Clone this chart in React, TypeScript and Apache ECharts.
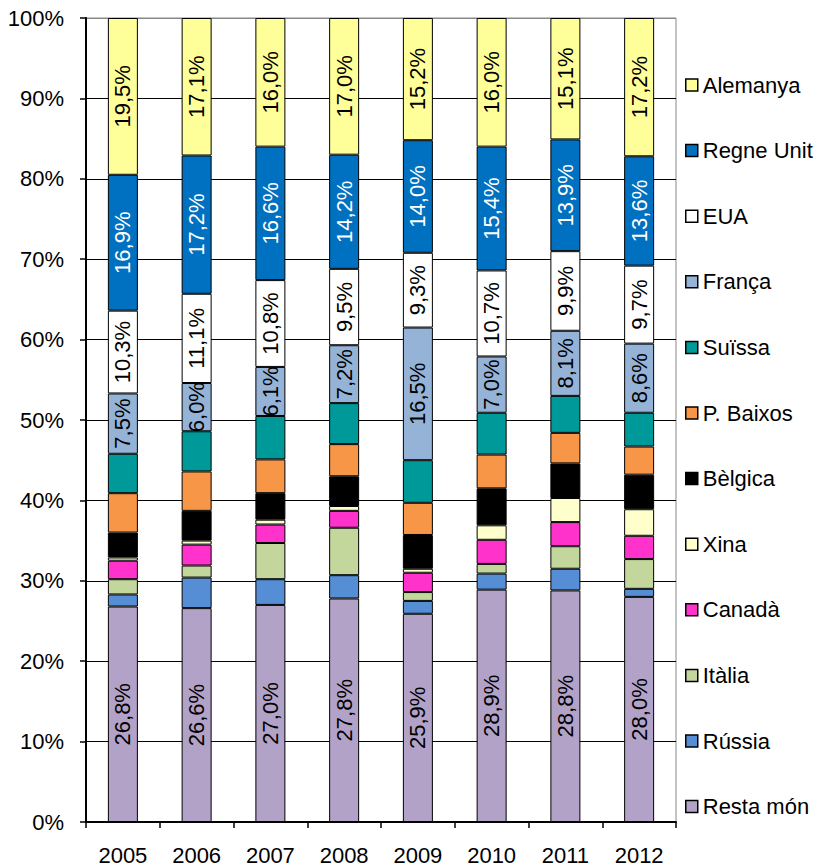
import React, { useEffect, useRef } from "react";
import * as echarts from "echarts";

const years = ["2005", "2006", "2007", "2008", "2009", "2010", "2011", "2012"];
const yTickLabels = [0, 10, 20, 30, 40, 50, 60, 70, 80, 90, 100];

const restaMon = [26.8, 26.6, 27.0, 27.8, 25.9, 28.9, 28.8, 28.0];
const russia = [1.5, 3.8, 3.2, 2.9, 1.6, 2.0, 2.7, 1.0];
const italia = [1.9, 1.5, 4.5, 5.9, 1.1, 1.2, 2.8, 3.7];
const canada = [2.3, 2.6, 2.3, 2.1, 2.4, 3.0, 3.0, 2.9];
const xina = [0.4, 0.5, 0.6, 0.6, 0.5, 1.8, 3.0, 3.3];
const belgica = [3.1, 3.7, 3.3, 3.7, 4.2, 4.6, 4.3, 4.3];
const pBaixos = [4.9, 4.9, 4.2, 4.0, 4.0, 4.2, 3.8, 3.5];
const suissa = [4.9, 5.0, 5.4, 5.1, 5.3, 5.2, 4.6, 4.2];
const franca = [7.5, 6.0, 6.1, 7.2, 16.5, 7.0, 8.1, 8.6];
const eua = [10.3, 11.1, 10.8, 9.5, 9.3, 10.7, 9.9, 9.7];
const regneUnit = [16.9, 17.2, 16.6, 14.2, 14.0, 15.4, 13.9, 13.6];
const alemanya = [19.5, 17.1, 16.0, 17.0, 15.2, 16.0, 15.1, 17.2];

const seriesDefs = [
  { name: "Resta món", data: restaMon, color: "#B3A2C7", label: true, labelColor: "#000" },
  { name: "Rússia", data: russia, color: "#558ED5", label: false, labelColor: "#000" },
  { name: "Itàlia", data: italia, color: "#C3D69B", label: false, labelColor: "#000" },
  { name: "Canadà", data: canada, color: "#FF33CC", label: false, labelColor: "#000" },
  { name: "Xina", data: xina, color: "#FFFFCC", label: false, labelColor: "#000" },
  { name: "Bèlgica", data: belgica, color: "#000000", label: false, labelColor: "#000" },
  { name: "P. Baixos", data: pBaixos, color: "#F79646", label: false, labelColor: "#000" },
  { name: "Suïssa", data: suissa, color: "#009999", label: false, labelColor: "#000" },
  { name: "França", data: franca, color: "#95B3D7", label: true, labelColor: "#000" },
  { name: "EUA", data: eua, color: "#FFFFFF", label: true, labelColor: "#000" },
  { name: "Regne Unit", data: regneUnit, color: "#0070C0", label: true, labelColor: "#FFFFFF" },
  { name: "Alemanya", data: alemanya, color: "#FFFF99", label: true, labelColor: "#000" },
];

const FONT = "'Liberation Sans', Arial, sans-serif";
const FS = 22;

export default function App() {
  const ref = useRef<HTMLDivElement>(null);

  useEffect(() => {
    if (!ref.current) return;
    const chart = echarts.init(ref.current, undefined, { renderer: "svg" });
    const splitColors = yTickLabels.map((v) => (v === 100 ? "#888888" : "#000000"));
    chart.setOption({
      animation: false,
      backgroundColor: "#ffffff",
      textStyle: { fontFamily: FONT },
      grid: {
        left: 86,
        right: 145,
        top: 18,
        bottom: 45,
        show: true,
        borderColor: "#888888",
        borderWidth: 1,
        backgroundColor: "transparent",
      },
      legend: {
        orient: "vertical",
        left: 680,
        top: 69,
        itemWidth: 12,
        itemHeight: 12,
        itemGap: 43.6,
        icon: "rect",
        data: seriesDefs.map((s) => s.name).reverse(),
        itemStyle: { borderColor: "#000", borderWidth: 1.5 },
        textStyle: { fontSize: FS, lineHeight: 22, color: "#000", fontFamily: FONT },
      },
      xAxis: {
        type: "category",
        data: years,
        axisLine: { lineStyle: { color: "#000", width: 2 } },
        axisTick: { show: true, length: 6, lineStyle: { color: "#000", width: 1.5 } },
        axisLabel: { fontSize: FS, color: "#000", margin: 22, fontFamily: FONT },
      },
      yAxis: {
        type: "value",
        min: 0,
        max: 100,
        interval: 10,
        axisLine: { show: true, lineStyle: { color: "#000", width: 2 } },
        axisTick: { show: true, length: 6, lineStyle: { color: "#000", width: 1.5 } },
        axisLabel: { fontSize: FS, color: "#000", margin: 22, formatter: "{value}%", fontFamily: FONT },
        splitLine: { show: true, lineStyle: { color: splitColors, width: 1 } },
      },
      series: seriesDefs.map((s) => ({
        name: s.name,
        type: "bar",
        stack: "total",
        barWidth: 30,
        data: s.data,
        itemStyle: { color: s.color, borderColor: "#000", borderWidth: 1 },
        label: {
          show: s.label,
          position: "inside",
          rotate: 90,
          fontSize: FS,
          color: s.labelColor,
          fontFamily: FONT,
          formatter: (p: any) => Number(p.value).toFixed(1).replace(".", ",") + "%",
        },
      })),
    });
    return () => chart.dispose();
  }, []);

  return (
    <div
      ref={ref}
      style={{ position: "fixed", left: 0, top: 0, width: 821, height: 867, background: "#fff" }}
    />
  );
}
